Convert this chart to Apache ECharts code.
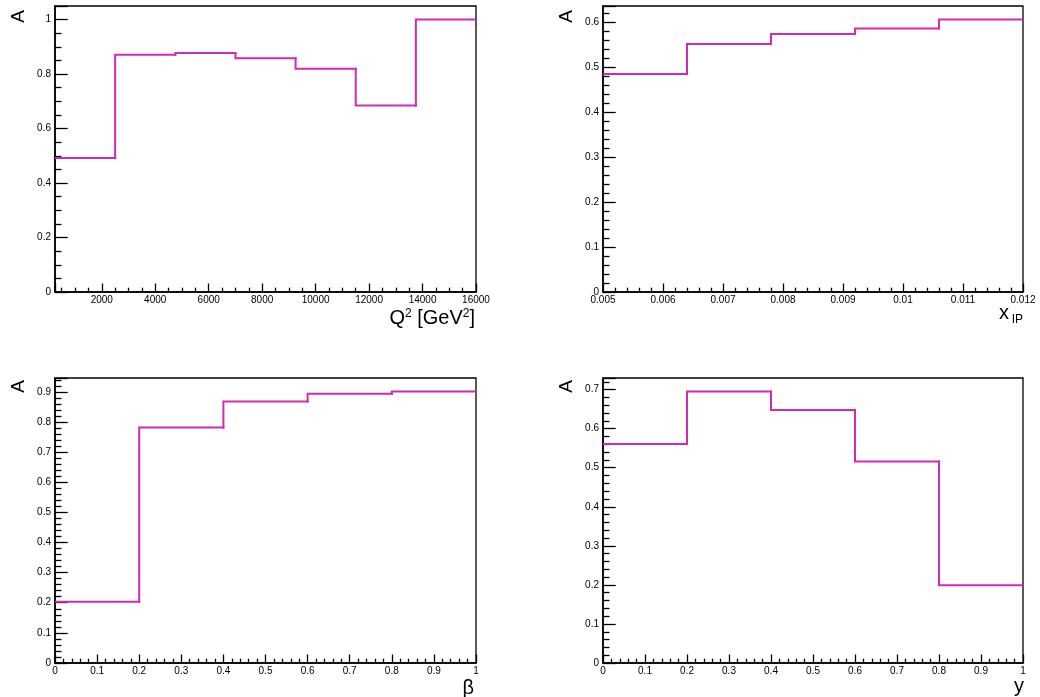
<!DOCTYPE html>
<html>
<head>
<meta charset="utf-8">
<script src="https://cdn.jsdelivr.net/npm/echarts@6/dist/echarts.min.js"></script>
<style>
  html, body { margin: 0; padding: 0; background: #fff; }
  #chart { width: 1040px; height: 697px; }
</style>
</head>
<body>
<div id="chart"></div>
<script>
// Acceptance A per bin, drawn as step histograms.
const q2Edges = [250, 2500, 4750, 7000, 9250, 11500, 13750, 16000];
const q2Acc = [0.492, 0.871, 0.877, 0.858, 0.820, 0.685, 1.0];

const xpomEdges = [0.005, 0.0064, 0.0078, 0.0092, 0.0106, 0.012];
const xpomAcc = [0.484, 0.551, 0.573, 0.585, 0.605];

const betaEdges = [0, 0.2, 0.4, 0.6, 0.8, 1];
const betaAcc = [0.203, 0.782, 0.868, 0.894, 0.901];

const yEdges = [0, 0.2, 0.4, 0.6, 0.8, 1];
const yAcc = [0.561, 0.695, 0.648, 0.516, 0.199];

// Major tick steps of each axis: [x, y]
const q2Steps = [2000, 0.2];
const xpomSteps = [0.001, 0.1];
const betaSteps = [0.1, 0.1];
const ySteps = [0.1, 0.1];

const FONT = "'Liberation Sans', Arial, Helvetica, sans-serif";
const LINE_COLOR = '#d22bb2';

// One item per bin: [low edge, high edge, value, value of the previous bin]
function binItems(edges, vals) {
  return vals.map((v, i) => [edges[i], edges[i + 1], v, i > 0 ? vals[i - 1] : v]);
}

// Vertical step from the previous bin's level, then across the bin.
function renderBin(params, api) {
  const lo = api.value(0), hi = api.value(1), v = api.value(2), prev = api.value(3);
  const a = api.coord([lo, prev]);
  const b = api.coord([lo, v]);
  const c = api.coord([hi, v]);
  return {
    type: 'polyline',
    shape: { points: [a, b, c] },
    style: { stroke: LINE_COLOR, lineWidth: 2, fill: null, lineJoin: 'miter', lineCap: 'square' }
  };
}

// Only label values that fall on the major step.
function stepLabel(step, digits) {
  return function (v) {
    const k = v / step;
    if (Math.abs(k - Math.round(k)) > 1e-6) return '';
    return String(Number(v.toFixed(digits)));
  };
}

const panels = [
  { edges: q2Edges, vals: q2Acc, steps: q2Steps, xDigits: 0, xMinor: 4, yMinor: 4,
    grid: { left: 55, top: 6, width: 421, height: 286 }, xAuto: true },
  { edges: xpomEdges, vals: xpomAcc, steps: xpomSteps, xDigits: 4, xMinor: 5, yMinor: 5,
    grid: { left: 603, top: 6, width: 420, height: 286 } },
  { edges: betaEdges, vals: betaAcc, steps: betaSteps, xDigits: 2, xMinor: 5, yMinor: 5,
    grid: { left: 55, top: 378, width: 421, height: 285 } },
  { edges: yEdges, vals: yAcc, steps: ySteps, xDigits: 2, xMinor: 5, yMinor: 5,
    grid: { left: 603, top: 378, width: 420, height: 285 } }
];

const grids = [], xAxes = [], yAxes = [], series = [];

panels.forEach((p, i) => {
  grids.push(Object.assign({
    show: true, borderColor: '#000', borderWidth: 1.3, backgroundColor: 'transparent'
  }, p.grid));

  const xMin = p.edges[0], xMax = p.edges[p.edges.length - 1];
  const xAxis = {
    gridIndex: i, type: 'value', min: xMin, max: xMax,
    axisLine: { show: true, onZero: false, lineStyle: { color: '#000', width: 1.6 } },
    axisTick: { show: true, inside: true, length: 8.5, lineStyle: { color: '#000', width: 1.3 } },
    minorTick: { show: true, splitNumber: p.xMinor, length: 4.3, lineStyle: { color: '#000', width: 1.3 } },
    splitLine: { show: false }, minorSplitLine: { show: false },
    axisLabel: { color: '#000', fontSize: 10, fontFamily: FONT, margin: 3,
      formatter: stepLabel(p.steps[0], p.xDigits) }
  };
  if (p.xAuto) xAxis.splitNumber = 8; else xAxis.interval = p.steps[0];
  xAxes.push(xAxis);

  const yMax = Math.max(...p.vals) * 1.05;
  yAxes.push({
    gridIndex: i, type: 'value', min: 0, max: yMax, interval: p.steps[1],
    axisLine: { show: true, onZero: false, lineStyle: { color: '#000', width: 1.6 } },
    axisTick: { show: true, inside: true, length: 12.7, lineStyle: { color: '#000', width: 1.3 } },
    minorTick: { show: true, splitNumber: p.yMinor, length: 6.5, lineStyle: { color: '#000', width: 1.3 } },
    splitLine: { show: false }, minorSplitLine: { show: false },
    axisLabel: { color: '#000', fontSize: 10, fontFamily: FONT, margin: 4,
      formatter: stepLabel(p.steps[1], 2) }
  });

  series.push({
    type: 'custom', xAxisIndex: i, yAxisIndex: i, silent: true, clip: true,
    renderItem: renderBin,
    encode: { x: [0, 1], y: [2, 3] },
    data: binItems(p.edges, p.vals)
  });
});

// Axis titles
function yTitle(x, y) {
  return { type: 'text', x: x, y: y, rotation: Math.PI / 2,
    style: { text: 'A', fill: '#000', font: '19px ' + FONT, align: 'right', verticalAlign: 'bottom' } };
}
const graphics = [
  yTitle(28, 10), yTitle(576, 10), yTitle(28, 380), yTitle(576, 380),
  { type: 'text', x: 475, y: 318,
    style: { text: 'Q{sup|2} [GeV{sup|2}]', fill: '#000', font: '20px ' + FONT,
      align: 'right', verticalAlign: 'middle',
      rich: { sup: { fontSize: 12, fontFamily: FONT, verticalAlign: 'top', fill: '#000' } } } },
  { type: 'text', x: 1009, y: 313,
    style: { text: 'x', fill: '#000', font: '20px ' + FONT, align: 'right', verticalAlign: 'middle' } },
  { type: 'text', x: 1023, y: 320,
    style: { text: 'IP', fill: '#000', font: '12px ' + FONT, align: 'right', verticalAlign: 'middle' } },
  { type: 'text', x: 474, y: 688,
    style: { text: 'β', fill: '#000', font: '20px ' + FONT, align: 'right', verticalAlign: 'middle' } },
  { type: 'text', x: 1024, y: 686,
    style: { text: 'y', fill: '#000', font: '20px ' + FONT, align: 'right', verticalAlign: 'middle' } }
];

const chart = echarts.init(document.getElementById('chart'), null, { renderer: 'canvas' });
chart.setOption({
  animation: false,
  backgroundColor: '#fff',
  grid: grids,
  xAxis: xAxes,
  yAxis: yAxes,
  series: series,
  graphic: graphics
});
</script>
</body>
</html>
